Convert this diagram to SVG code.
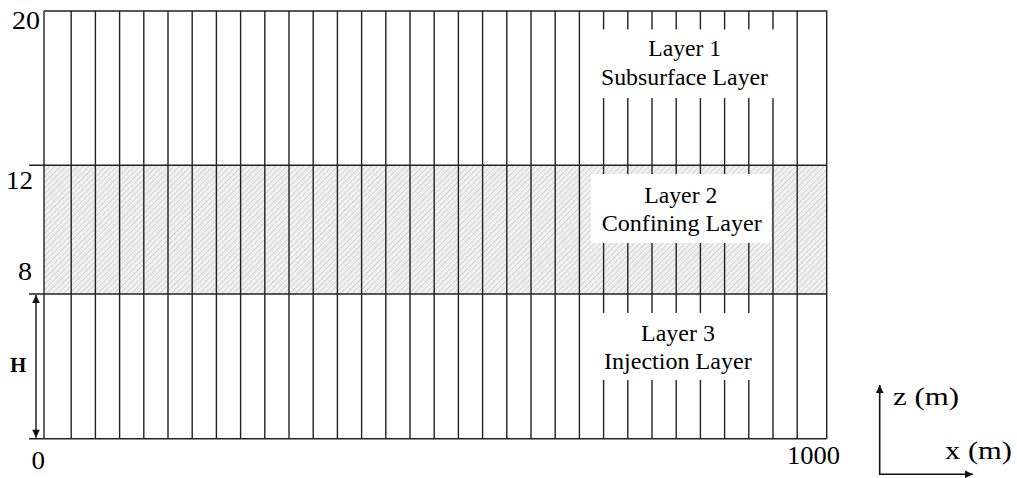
<svg xmlns="http://www.w3.org/2000/svg" width="1017" height="478" viewBox="0 0 1017 478">
  <style>
    .ln { stroke: #222; stroke-width: 1.4; fill: none; }
    .lbl { font-family: 'Liberation Serif', serif; font-size: 24px; fill: #000; }
    .tick { font-family: 'Liberation Serif', serif; font-size: 25px; fill: #000; }
    .bg { fill: #ffffff; stroke: none; }
  </style>
  <defs>
    <pattern id="hatch" patternUnits="userSpaceOnUse" width="4" height="4" patternTransform="rotate(45)">
      <rect width="4" height="4" fill="#f1f1f1"/>
      <line x1="0" y1="0" x2="0" y2="4" stroke="#cdcdcd" stroke-width="1.6"/>
    </pattern>
    <marker id="ah" markerUnits="userSpaceOnUse" markerWidth="10" markerHeight="10" viewBox="0 0 10 10" refX="9" refY="5" orient="auto-start-reverse">
      <path d="M1,1.2 L9,5 L1,8.8 Z" fill="#111"/>
    </marker>
  </defs>

  <g id="grid">
    <rect x="44" y="165.3" width="782.7" height="128.7" fill="url(#hatch)"/>
    <path class="ln" d="M71.2,11V438.7 M95.4,11V438.7 M119.6,11V438.7 M143.8,11V438.7 M168,11V438.7 M192.2,11V438.7 M216.4,11V438.7 M240.6,11V438.7 M264.8,11V438.7 M289,11V438.7 M313.2,11V438.7 M337.4,11V438.7 M361.6,11V438.7 M385.8,11V438.7 M410,11V438.7 M434.2,11V438.7 M458.4,11V438.7 M482.6,11V438.7 M506.8,11V438.7 M531,11V438.7 M555.2,11V438.7 M579.4,11V438.7 M603.6,11V438.7 M627.8,11V438.7 M652,11V438.7 M676.2,11V438.7 M700.4,11V438.7 M724.6,11V438.7 M748.8,11V438.7 M773,11V438.7 M797.2,11V438.7"/>
    <path class="ln" d="M44,11H826.7V438.7 M44,11V438.7 M29,165.3H826.7 M29,294H826.7 M29,438.7H826.7"/>
  </g>

  <g id="layer1">
    <rect class="bg" x="589" y="29.5" width="196" height="68.5"/>
    <text class="lbl" x="648.3" y="56" textLength="72.7" lengthAdjust="spacingAndGlyphs">Layer 1</text>
    <text class="lbl" x="601" y="84.5" textLength="167" lengthAdjust="spacingAndGlyphs">Subsurface Layer</text>
  </g>

  <g id="layer2">
    <rect class="bg" x="591" y="174" width="180" height="69"/>
    <text class="lbl" x="644.3" y="202.7" textLength="73" lengthAdjust="spacingAndGlyphs">Layer 2</text>
    <text class="lbl" x="601.7" y="231" textLength="160" lengthAdjust="spacingAndGlyphs">Confining Layer</text>
  </g>

  <g id="layer3">
    <rect class="bg" x="589" y="313" width="181" height="67"/>
    <text class="lbl" x="641" y="340.7" textLength="74" lengthAdjust="spacingAndGlyphs">Layer 3</text>
    <text class="lbl" x="604" y="368.7" textLength="147.7" lengthAdjust="spacingAndGlyphs">Injection Layer</text>
  </g>

  <g id="ticks">
    <text class="tick" x="12" y="29" textLength="28" lengthAdjust="spacingAndGlyphs">20</text>
    <text class="tick" x="6" y="189" textLength="27" lengthAdjust="spacingAndGlyphs">12</text>
    <text class="tick" x="18" y="280" textLength="14" lengthAdjust="spacingAndGlyphs">8</text>
    <text class="tick" x="31.5" y="469" textLength="13.5" lengthAdjust="spacingAndGlyphs">0</text>
    <text class="tick" x="787" y="464" textLength="53" lengthAdjust="spacingAndGlyphs">1000</text>
  </g>

  <g id="h-label">
    <text x="10" y="372" font-family="'Liberation Serif', serif" font-size="21" font-weight="bold" fill="#000">H</text>
  </g>

  <g id="axis-labels">
    <text class="tick" x="893" y="405" textLength="66" lengthAdjust="spacingAndGlyphs">z (m)</text>
    <text class="tick" x="945" y="458.5" textLength="67" lengthAdjust="spacingAndGlyphs">x (m)</text>
  </g>

  <g id="connectors">
    <line x1="36" y1="295" x2="36" y2="437.8" stroke="#111" stroke-width="1.4" marker-start="url(#ah)" marker-end="url(#ah)"/>
    <line x1="879.7" y1="475" x2="879.7" y2="385" stroke="#111" stroke-width="1.6" marker-end="url(#ah)"/>
    <line x1="879" y1="474.3" x2="973" y2="474.3" stroke="#111" stroke-width="1.6" marker-end="url(#ah)"/>
  </g>
</svg>
